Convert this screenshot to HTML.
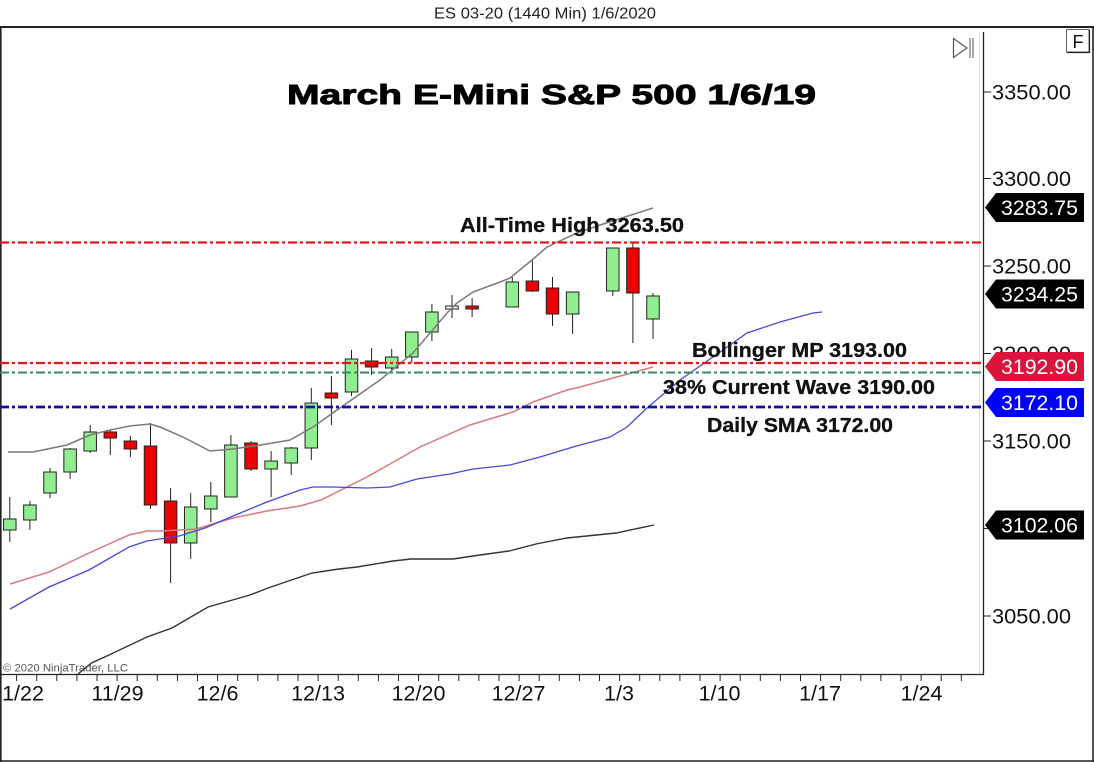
<!DOCTYPE html>
<html>
<head>
<meta charset="utf-8">
<style>
html,body{margin:0;padding:0;background:#fff;}
svg{display:block;}
text{font-family:"Liberation Sans",Arial,sans-serif;}
</style>
</head>
<body>
<svg width="1094" height="762" viewBox="0 0 1094 762" xmlns="http://www.w3.org/2000/svg">
<rect x="0" y="0" width="1094" height="762" fill="#fff"/>
<!-- header -->
<text x="434" y="18.5" font-size="15.5" fill="#222" textLength="222" lengthAdjust="spacingAndGlyphs">ES 03-20 (1440 Min)  1/6/2020</text>
<!-- frame -->
<line x1="0" y1="27" x2="1094" y2="27" stroke="#222" stroke-width="2"/>
<line x1="0.8" y1="27" x2="0.8" y2="762" stroke="#222" stroke-width="1.6"/>
<line x1="1093" y1="27" x2="1093" y2="762" stroke="#222" stroke-width="1.6"/>
<line x1="0" y1="761" x2="1094" y2="761" stroke="#222" stroke-width="1.6"/>
<!-- plot axes -->
<line x1="979.5" y1="32" x2="979.5" y2="674" stroke="#ddd" stroke-width="1"/>
<line x1="983.5" y1="32" x2="983.5" y2="675" stroke="#222" stroke-width="1.3"/>
<line x1="0" y1="674.5" x2="984" y2="674.5" stroke="#222" stroke-width="1.3"/>

<!-- icons -->
<polygon points="953.5,38.5 967,48 953.5,57.5" fill="none" stroke="#555" stroke-width="1.2"/>
<line x1="970" y1="38" x2="970" y2="58" stroke="#555" stroke-width="1"/>
<line x1="973" y1="38" x2="973" y2="58" stroke="#555" stroke-width="1"/>
<rect x="1066.5" y="29.5" width="22.5" height="22.5" fill="#fff" stroke="#666" stroke-width="1"/>
<line x1="1067" y1="52.5" x2="1089.5" y2="52.5" stroke="#222" stroke-width="1.2"/>
<line x1="1089.5" y1="30" x2="1089.5" y2="53" stroke="#222" stroke-width="1.2"/>
<text x="1072.5" y="48" font-size="18" fill="#111">F</text>

<!-- title -->
<text x="287" y="104" font-size="28" font-weight="bold" fill="#000" stroke="#000" stroke-width="0.9" textLength="529" lengthAdjust="spacingAndGlyphs">March E-Mini S&amp;P 500 1/6/19</text>

<!-- y axis ticks and labels -->
<g stroke="#222" stroke-width="1">
<line x1="984" y1="92" x2="991" y2="92"/>
<line x1="984" y1="178.5" x2="991" y2="178.5"/>
<line x1="984" y1="266" x2="991" y2="266"/>
<line x1="984" y1="353.5" x2="991" y2="353.5"/>
<line x1="984" y1="441" x2="991" y2="441"/>
<line x1="984" y1="528.5" x2="991" y2="528.5"/>
<line x1="984" y1="616" x2="991" y2="616"/>
</g>
<g font-size="21" fill="#111">
<text x="992" y="99.5" textLength="79" lengthAdjust="spacingAndGlyphs">3350.00</text>
<text x="992" y="186" textLength="79" lengthAdjust="spacingAndGlyphs">3300.00</text>
<text x="992" y="273.5" textLength="79" lengthAdjust="spacingAndGlyphs">3250.00</text>
<text x="992" y="361" textLength="79" lengthAdjust="spacingAndGlyphs">3200.00</text>
<text x="992" y="448.5" textLength="79" lengthAdjust="spacingAndGlyphs">3150.00</text>
<text x="992" y="623.5" textLength="79" lengthAdjust="spacingAndGlyphs">3050.00</text>
</g>

<!-- x axis ticks -->
<g stroke="#222" stroke-width="1">
<line x1="16.6" y1="675" x2="16.6" y2="681"/><line x1="36.7" y1="675" x2="36.7" y2="681"/><line x1="56.8" y1="675" x2="56.8" y2="681"/><line x1="76.9" y1="675" x2="76.9" y2="681"/><line x1="97" y1="675" x2="97" y2="681"/><line x1="117.1" y1="675" x2="117.1" y2="681"/><line x1="137.2" y1="675" x2="137.2" y2="681"/><line x1="157.3" y1="675" x2="157.3" y2="681"/><line x1="177.4" y1="675" x2="177.4" y2="681"/><line x1="197.5" y1="675" x2="197.5" y2="681"/>
<line x1="217.6" y1="675" x2="217.6" y2="681"/><line x1="237.7" y1="675" x2="237.7" y2="681"/><line x1="257.8" y1="675" x2="257.8" y2="681"/><line x1="277.9" y1="675" x2="277.9" y2="681"/><line x1="298" y1="675" x2="298" y2="681"/><line x1="318.1" y1="675" x2="318.1" y2="681"/><line x1="338.2" y1="675" x2="338.2" y2="681"/><line x1="358.3" y1="675" x2="358.3" y2="681"/><line x1="378.4" y1="675" x2="378.4" y2="681"/><line x1="398.5" y1="675" x2="398.5" y2="681"/>
<line x1="418.6" y1="675" x2="418.6" y2="681"/><line x1="438.7" y1="675" x2="438.7" y2="681"/><line x1="458.8" y1="675" x2="458.8" y2="681"/><line x1="478.9" y1="675" x2="478.9" y2="681"/><line x1="499" y1="675" x2="499" y2="681"/><line x1="519.1" y1="675" x2="519.1" y2="681"/><line x1="539.2" y1="675" x2="539.2" y2="681"/><line x1="559.3" y1="675" x2="559.3" y2="681"/><line x1="579.4" y1="675" x2="579.4" y2="681"/><line x1="599.5" y1="675" x2="599.5" y2="681"/>
<line x1="619.6" y1="675" x2="619.6" y2="681"/><line x1="639.7" y1="675" x2="639.7" y2="681"/><line x1="659.8" y1="675" x2="659.8" y2="681"/><line x1="679.9" y1="675" x2="679.9" y2="681"/><line x1="700" y1="675" x2="700" y2="681"/><line x1="720.1" y1="675" x2="720.1" y2="681"/><line x1="740.2" y1="675" x2="740.2" y2="681"/><line x1="760.3" y1="675" x2="760.3" y2="681"/><line x1="780.4" y1="675" x2="780.4" y2="681"/><line x1="800.5" y1="675" x2="800.5" y2="681"/>
<line x1="820.6" y1="675" x2="820.6" y2="681"/><line x1="840.7" y1="675" x2="840.7" y2="681"/><line x1="860.8" y1="675" x2="860.8" y2="681"/><line x1="880.9" y1="675" x2="880.9" y2="681"/><line x1="901" y1="675" x2="901" y2="681"/><line x1="921.1" y1="675" x2="921.1" y2="681"/><line x1="941.2" y1="675" x2="941.2" y2="681"/><line x1="961.3" y1="675" x2="961.3" y2="681"/>
</g>
<g font-size="21.5" fill="#111" text-anchor="middle">
<text x="23" y="700.5">1/22</text>
<text x="117.5" y="700.5">11/29</text>
<text x="217.5" y="700.5">12/6</text>
<text x="318" y="700.5">12/13</text>
<text x="418.5" y="700.5">12/20</text>
<text x="518.5" y="700.5">12/27</text>
<text x="619" y="700.5">1/3</text>
<text x="719.5" y="700.5">1/10</text>
<text x="820" y="700.5">1/17</text>
<text x="921.5" y="700.5">1/24</text>
</g>

<!-- copyright -->
<text x="3" y="671.5" font-size="11" fill="#555" textLength="125" lengthAdjust="spacingAndGlyphs">© 2020 NinjaTrader, LLC</text>

<!-- candles -->
<g stroke="#222" stroke-width="1">
<line x1="9.8" y1="497" x2="9.8" y2="542"/><rect x="3.55" y="519" width="12.5" height="11" fill="#90ee90"/>
<line x1="29.9" y1="501" x2="29.9" y2="530"/><rect x="23.65" y="505" width="12.5" height="15" fill="#90ee90"/>
<line x1="50" y1="468" x2="50" y2="498"/><rect x="43.75" y="472" width="12.5" height="21" fill="#90ee90"/>
<line x1="70.1" y1="448" x2="70.1" y2="479"/><rect x="63.85" y="449" width="12.5" height="23" fill="#90ee90"/>
<line x1="90.2" y1="425" x2="90.2" y2="453"/><rect x="83.95" y="432" width="12.5" height="19" fill="#90ee90"/>
<line x1="110.3" y1="430" x2="110.3" y2="455"/><rect x="104.05" y="432" width="12.5" height="6" fill="#ee0000"/>
<line x1="130.4" y1="436" x2="130.4" y2="457"/><rect x="124.15" y="441" width="12.5" height="8" fill="#ee0000"/>
<line x1="150.5" y1="423" x2="150.5" y2="509"/><rect x="144.25" y="446" width="12.5" height="59" fill="#ee0000"/>
<line x1="170.6" y1="488" x2="170.6" y2="583"/><rect x="164.35" y="501" width="12.5" height="42" fill="#ee0000"/>
<line x1="190.7" y1="493" x2="190.7" y2="559"/><rect x="184.45" y="507" width="12.5" height="36" fill="#90ee90"/>
<line x1="210.8" y1="482" x2="210.8" y2="522"/><rect x="204.55" y="496" width="12.5" height="13" fill="#90ee90"/>
<line x1="230.9" y1="435" x2="230.9" y2="497"/><rect x="224.65" y="445" width="12.5" height="52" fill="#90ee90"/>
<line x1="251" y1="441" x2="251" y2="471"/><rect x="244.75" y="443" width="12.5" height="26" fill="#ee0000"/>
<line x1="271.1" y1="451" x2="271.1" y2="497"/><rect x="264.85" y="461" width="12.5" height="8" fill="#90ee90"/>
<line x1="291.2" y1="447" x2="291.2" y2="475"/><rect x="284.95" y="448" width="12.5" height="15" fill="#90ee90"/>
<line x1="311.3" y1="388" x2="311.3" y2="460"/><rect x="305.05" y="403" width="12.5" height="45" fill="#90ee90"/>
<line x1="331.4" y1="376" x2="331.4" y2="425"/><rect x="325.15" y="393" width="12.5" height="5" fill="#ee0000"/>
<line x1="351.5" y1="350" x2="351.5" y2="396"/><rect x="345.25" y="359" width="12.5" height="33" fill="#90ee90"/>
<line x1="371.6" y1="348" x2="371.6" y2="375"/><rect x="365.35" y="361" width="12.5" height="6" fill="#ee0000"/>
<line x1="391.7" y1="349" x2="391.7" y2="370"/><rect x="385.45" y="357" width="12.5" height="11" fill="#90ee90"/>
<line x1="411.8" y1="332" x2="411.8" y2="363"/><rect x="405.55" y="332" width="12.5" height="25" fill="#90ee90"/>
<line x1="431.9" y1="304" x2="431.9" y2="341"/><rect x="425.65" y="312" width="12.5" height="20" fill="#90ee90"/>
<line x1="452" y1="295" x2="452" y2="318"/><rect x="445.75" y="306" width="12.5" height="3" fill="#fff"/>
<line x1="472.1" y1="298" x2="472.1" y2="317"/><rect x="465.85" y="306" width="12.5" height="3" fill="#ee0000"/>
<line x1="512.3" y1="277" x2="512.3" y2="307"/><rect x="506.05" y="282" width="12.5" height="25" fill="#90ee90"/>
<line x1="532.4" y1="260" x2="532.4" y2="292"/><rect x="526.15" y="281" width="12.5" height="10" fill="#ee0000"/>
<line x1="552.5" y1="277" x2="552.5" y2="326"/><rect x="546.25" y="288" width="12.5" height="26" fill="#ee0000"/>
<line x1="572.6" y1="292" x2="572.6" y2="334"/><rect x="566.35" y="292" width="12.5" height="22" fill="#90ee90"/>
<line x1="612.8" y1="248" x2="612.8" y2="296"/><rect x="606.55" y="248" width="12.5" height="43" fill="#90ee90"/>
<line x1="632.9" y1="243" x2="632.9" y2="343"/><rect x="626.65" y="248" width="12.5" height="45" fill="#ee0000"/>
<line x1="653" y1="293" x2="653" y2="339"/><rect x="646.75" y="296" width="12.5" height="23" fill="#90ee90"/>
</g>

<!-- indicator lines -->
<polyline fill="none" stroke="#333" stroke-width="1.4" points="78,674 91.5,663 109,655 147,637 172,628 208,607 250,595 268,588 312,573 339,569 357,567 393,561 411,559 453,559 473,556 509,551 536,544 567,538 616,533 654,525"/>
<polyline fill="none" stroke="#d87a7e" stroke-width="1.5" points="10,584 49,572 89,553 129,535 147,531 163,531 196,529 233,518 267,511 300,506 321,500 367,477 420,447 470,425 513,412 533,402 567,390 580,387 613,378 653,367"/>
<polyline fill="none" stroke="#4848d8" stroke-width="1.3" points="10,609 49,587 89,570 129,547 147,541 179,536 205,528 233,516 267,502 300,490 313,487 333,487 367,488 390,487 417,479 450,474 473,469 510,465 540,457 573,447 610,437 627,427 647,408 680,380 713,357 747,333 780,322 813,313 822,312"/>
<polyline fill="none" stroke="#7a7a7a" stroke-width="1.5" points="8,452 33,452 67,445 90,435 110,430 130,426 150,424 160,427 183,437 210,451 233,449 267,444 290,440 313,427 347,403 380,380 413,353 447,313 457,303 473,292 500,282 510,278 532,260 547,247 577,233 600,225 653,208"/>

<!-- horizontal levels -->
<line x1="0" y1="242.5" x2="983" y2="242.5" stroke="#e0181c" stroke-width="2.2" stroke-dasharray="9,3,3,3"/>
<line x1="0" y1="363" x2="983" y2="363" stroke="#e0181c" stroke-width="2.2" stroke-dasharray="9,3,3,3"/>
<line x1="0" y1="372.5" x2="983" y2="372.5" stroke="#3b8a66" stroke-width="2" stroke-dasharray="9,3,3,3"/>
<line x1="0" y1="407" x2="983" y2="407" stroke="#10109a" stroke-width="2.8" stroke-dasharray="9,3,3,3"/>

<!-- annotations -->
<g font-size="20.5" font-weight="bold" fill="#111" stroke="#111" stroke-width="0.3">
<text x="460" y="232" textLength="224" lengthAdjust="spacingAndGlyphs">All-Time High 3263.50</text>
<text x="692" y="357" textLength="215" lengthAdjust="spacingAndGlyphs">Bollinger MP 3193.00</text>
<text x="663" y="394" textLength="272" lengthAdjust="spacingAndGlyphs">38% Current Wave 3190.00</text>
<text x="707" y="432" textLength="186" lengthAdjust="spacingAndGlyphs">Daily SMA 3172.00</text>
</g>

<!-- price tags -->
<g font-size="21" fill="#fff">
<polygon points="985,207.5 996,193 1084,193 1084,222 996,222" fill="#000"/>
<text x="1001" y="215" textLength="77" lengthAdjust="spacingAndGlyphs">3283.75</text>
<polygon points="985,294 996,279.5 1084,279.5 1084,308.5 996,308.5" fill="#000"/>
<text x="1001" y="301.5" textLength="77" lengthAdjust="spacingAndGlyphs">3234.25</text>
<polygon points="985,366.5 996,352 1084,352 1084,381 996,381" fill="#dc143c"/>
<text x="1001" y="374" textLength="77" lengthAdjust="spacingAndGlyphs">3192.90</text>
<polygon points="985,402.5 996,388 1084,388 1084,417 996,417" fill="#0000ff"/>
<text x="1001" y="410" textLength="77" lengthAdjust="spacingAndGlyphs">3172.10</text>
<polygon points="985,525 996,510.5 1084,510.5 1084,539.5 996,539.5" fill="#000"/>
<text x="1001" y="532.5" textLength="77" lengthAdjust="spacingAndGlyphs">3102.06</text>
</g>
</svg>
</body>
</html>
